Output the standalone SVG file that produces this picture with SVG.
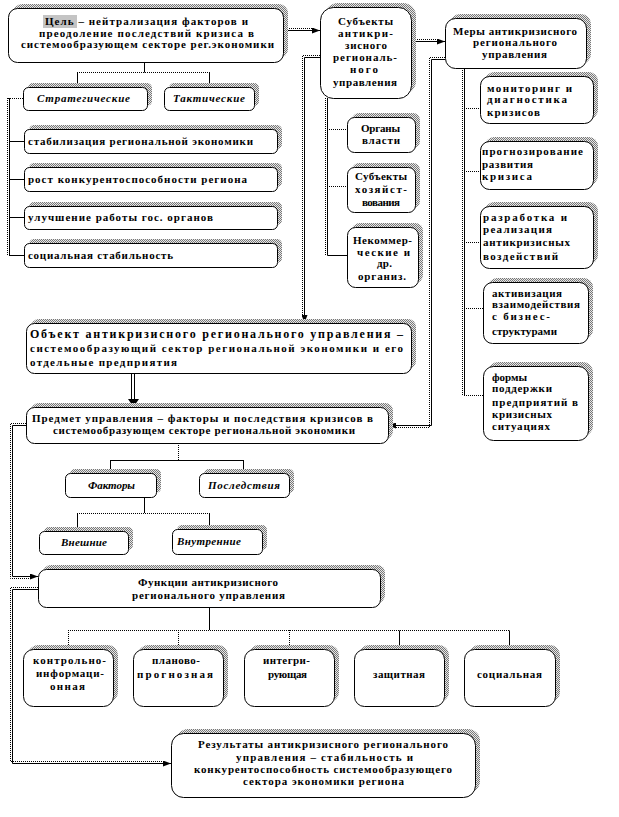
<svg xmlns="http://www.w3.org/2000/svg" width="619" height="817" viewBox="0 0 619 817">
<defs>
<pattern id="dith" width="2" height="2" patternUnits="userSpaceOnUse"><rect width="2" height="2" fill="#e8e8e8"/><rect width="1" height="1" fill="#777"/><rect x="1" y="1" width="1" height="1" fill="#777"/></pattern>
<marker id="ar" viewBox="0 0 8 6" refX="8" refY="3" markerWidth="8" markerHeight="6" markerUnits="userSpaceOnUse" orient="auto"><path d="M0,0 L8,3 L0,6 z" fill="#000"/></marker>
<style>
.box{fill:#fff;stroke:#000;stroke-width:1}
.shd{fill:url(#dith)}
.t{font-family:"Liberation Serif","Times New Roman",serif;font-weight:bold;font-size:11px;fill:#000}
.i{font-style:italic}
.c{fill:none;stroke:#000;stroke-width:1}
.d{fill:none;stroke:#000;stroke-width:1;stroke-dasharray:1 1}
</style>
</defs>
<rect width="619" height="817" fill="#fff"/>

<g id="connectors">
<path class="c" d="M144.5,62 V72.5 M77.5,72.5 V87 M209.5,72.5 V87"/>
<path class="d" d="M77,72.5 H210"/>
<path class="d" d="M23,98.5 H8 M7.5,98 V256"/>
<path class="c" d="M9.5,98 V255.5 M9,141.5 H24 M9,179.5 H24 M9,217.5 H24 M9,255.5 H24"/>
<path class="c" d="M283,30.5 H320" marker-end="url(#ar)"/>
<path class="d" d="M283,28.5 H314"/>
<path class="c" d="M411,41.5 H445" marker-end="url(#ar)"/>
<path class="d" d="M411,39.5 H439"/>
<path class="c" d="M320,57.5 H304.5 V323" marker-end="url(#ar)"/>
<path class="d" d="M320,55.5 H302.5 V316"/>
<path class="c" d="M327.5,98 V255.5 H347"/>
<path class="d" d="M325.5,98 V255 M327,129.5 H347 M327,186.5 H347"/>
<path class="c" d="M445,59.5 H431.5 V425.5 H388" marker-end="url(#ar)"/>
<path class="d" d="M445,57.5 H429.5 V427.5 H395"/>
<path class="c" d="M464.5,68 V395.5"/>
<path class="d" d="M462.5,68 V395 M464,108.5 H480 M464,171.5 H480 M464,242.5 H480 M464,308.5 H483 M464,395.5 H483"/>
<path class="c" d="M131.5,373 V400 M134.5,373 V400"/>
<path d="M128,399 L139,399 L133.5,407 z" fill="#000"/>
<path class="d" d="M178.5,443 V460"/>
<path class="c" d="M110,460.5 H244 M110.5,460 V473 M243.5,460 V473"/>
<path class="c" d="M144.5,497 V513 M77.5,513.5 V531 M209.5,513.5 V529"/>
<path class="d" d="M77,513.5 H210"/>
<path class="c" d="M26,425.5 H12.5 V576.5 H38" marker-end="url(#ar)"/>
<path class="d" d="M26,423.5 H10.5 V578.5 H32"/>
<path class="c" d="M38,589.5 H12.5 V763.5 H171" marker-end="url(#ar)"/>
<path class="d" d="M38,587.5 H10.5 V761.5 H165"/>
<path class="c" d="M209.5,607 V630 M399.5,630.5 V649 M509.5,630.5 V649"/>
<path class="d" d="M68,630.5 H510 M68.5,630 V649 M178.5,630 V649 M289.5,630 V649"/>
</g>

<g id="goal">
<rect class="shd" x="13" y="4" width="275" height="54" rx="9"/>
<rect class="box" x="8.5" y="8.5" width="275" height="54" rx="9"/>
<rect x="43" y="15" width="34" height="13" fill="#c4c4c4"/>
<text class="t" x="45" y="24.5" textLength="203" lengthAdjust="spacing">Цель – нейтрализация факторов и</text>
<text class="t" x="39" y="36.5" textLength="215" lengthAdjust="spacing">преодоление последствий кризиса в</text>
<text class="t" x="21" y="47.5" textLength="253" lengthAdjust="spacing">системообразующем секторе рег.экономики</text>
</g>

<g id="strategic">
<rect class="shd" x="28" y="83" width="124" height="23" rx="5"/>
<rect class="box" x="23.5" y="87.5" width="124" height="23" rx="5"/>
<text class="t i" x="37" y="102" textLength="93" lengthAdjust="spacing">Стратегические</text>
</g>
<g id="tactical">
<rect class="shd" x="169" y="83" width="90" height="23" rx="5"/>
<rect class="box" x="164.5" y="87.5" width="90" height="23" rx="5"/>
<text class="t i" x="173" y="102" textLength="72" lengthAdjust="spacing">Тактические</text>
</g>

<g id="goal1">
<rect class="shd" x="29" y="125" width="253" height="24" rx="5"/>
<rect class="box" x="24.5" y="129.5" width="253" height="24" rx="5"/>
<text class="t" x="28" y="145" textLength="225" lengthAdjust="spacing">стабилизация региональной экономики</text>
</g>
<g id="goal2">
<rect class="shd" x="29" y="163" width="253" height="24" rx="5"/>
<rect class="box" x="24.5" y="167.5" width="253" height="24" rx="5"/>
<text class="t" x="28" y="183" textLength="219" lengthAdjust="spacing">рост конкурентоспособности региона</text>
</g>
<g id="goal3">
<rect class="shd" x="29" y="202" width="253" height="23" rx="5"/>
<rect class="box" x="24.5" y="206.5" width="253" height="23" rx="5"/>
<text class="t" x="28" y="221" textLength="185" lengthAdjust="spacing">улучшение работы гос. органов</text>
</g>
<g id="goal4">
<rect class="shd" x="29" y="239" width="253" height="24" rx="5"/>
<rect class="box" x="24.5" y="243.5" width="253" height="24" rx="5"/>
<text class="t" x="28" y="259" textLength="145" lengthAdjust="spacing">социальная стабильность</text>
</g>

<g id="subjects">
<rect class="shd" x="325" y="3" width="91" height="91" rx="13"/>
<rect class="box" x="320.5" y="7.5" width="91" height="91" rx="13"/>
<text class="t" x="338" y="25" textLength="55" lengthAdjust="spacing">Субъекты</text>
<text class="t" x="338" y="37" textLength="55" lengthAdjust="spacing">антикри-</text>
<text class="t" x="345" y="49" textLength="42" lengthAdjust="spacing">зисного</text>
<text class="t" x="333" y="61" textLength="64" lengthAdjust="spacing">региональ-</text>
<text class="t" x="350" y="73" textLength="28" lengthAdjust="spacing">ного</text>
<text class="t" x="333" y="86" textLength="64" lengthAdjust="spacing">управления</text>
</g>

<g id="measures">
<rect class="shd" x="450" y="14" width="141" height="50" rx="10"/>
<rect class="box" x="445.5" y="18.5" width="141" height="50" rx="10"/>
<text class="t" x="453" y="35" textLength="124" lengthAdjust="spacing">Меры антикризисного</text>
<text class="t" x="473" y="46" textLength="84" lengthAdjust="spacing">регионального</text>
<text class="t" x="482" y="58" textLength="65" lengthAdjust="spacing">управления</text>
</g>

<g id="authorities">
<rect class="shd" x="352" y="113" width="68" height="35" rx="7"/>
<rect class="box" x="347.5" y="117.5" width="68" height="35" rx="7"/>
<text class="t" x="361" y="132" textLength="39" lengthAdjust="spacing">Органы</text>
<text class="t" x="362" y="144" textLength="38" lengthAdjust="spacing">власти</text>
</g>
<g id="business">
<rect class="shd" x="352" y="163" width="68" height="45" rx="7"/>
<rect class="box" x="347.5" y="167.5" width="68" height="45" rx="7"/>
<text class="t" x="355" y="180" textLength="52" lengthAdjust="spacing">Субъекты</text>
<text class="t" x="355" y="193" textLength="52" lengthAdjust="spacing">хозяйст-</text>
<text class="t" x="362" y="206" textLength="38" lengthAdjust="spacing">вования</text>
</g>
<g id="nonprofit">
<rect class="shd" x="352" y="223" width="71" height="60" rx="8"/>
<rect class="box" x="347.5" y="227.5" width="71" height="60" rx="8"/>
<text class="t" x="353" y="244" textLength="59" lengthAdjust="spacing">Некоммер-</text>
<text class="t" x="357" y="256" textLength="53" lengthAdjust="spacing">ческие и</text>
<text class="t" x="377" y="267" textLength="15" lengthAdjust="spacing">др.</text>
<text class="t" x="358" y="280" textLength="48" lengthAdjust="spacing">организ.</text>
</g>

<g id="m1">
<rect class="shd" x="485" y="72" width="113" height="47" rx="9"/>
<rect class="box" x="480.5" y="76.5" width="113" height="47" rx="9"/>
<text class="t" x="487" y="92" textLength="85" lengthAdjust="spacing">мониторинг и</text>
<text class="t" x="487" y="103" textLength="80" lengthAdjust="spacing">диагностика</text>
<text class="t" x="487" y="116" textLength="53" lengthAdjust="spacing">кризисов</text>
</g>
<g id="m2">
<rect class="shd" x="485" y="137" width="113" height="48" rx="9"/>
<rect class="box" x="480.5" y="141.5" width="113" height="48" rx="9"/>
<text class="t" x="482" y="155" textLength="101" lengthAdjust="spacing">прогнозирование</text>
<text class="t" x="482" y="168" textLength="51" lengthAdjust="spacing">развития</text>
<text class="t" x="482" y="180" textLength="50" lengthAdjust="spacing">кризиса</text>
</g>
<g id="m3">
<rect class="shd" x="485" y="202" width="113" height="62" rx="9"/>
<rect class="box" x="480.5" y="206.5" width="113" height="62" rx="9"/>
<text class="t" x="483" y="221" textLength="84" lengthAdjust="spacing">разработка и</text>
<text class="t" x="483" y="233" textLength="69" lengthAdjust="spacing">реализация</text>
<text class="t" x="483" y="246" textLength="87" lengthAdjust="spacing">антикризисных</text>
<text class="t" x="483" y="260" textLength="75" lengthAdjust="spacing">воздействий</text>
</g>
<g id="m4">
<rect class="shd" x="488" y="278" width="105" height="61" rx="9"/>
<rect class="box" x="483.5" y="282.5" width="105" height="61" rx="9"/>
<text class="t" x="492" y="297" textLength="70" lengthAdjust="spacing">активизация</text>
<text class="t" x="492" y="308" textLength="88" lengthAdjust="spacing">взаимодействия</text>
<text class="t" x="492" y="320" textLength="58" lengthAdjust="spacing">с бизнес-</text>
<text class="t" x="492" y="335" textLength="65" lengthAdjust="spacing">структурами</text>
</g>
<g id="m5">
<rect class="shd" x="488" y="362" width="105" height="74" rx="10"/>
<rect class="box" x="483.5" y="366.5" width="105" height="74" rx="10"/>
<text class="t" x="492" y="381">формы</text>
<text class="t" x="492" y="392" textLength="60" lengthAdjust="spacing">поддержки</text>
<text class="t" x="492" y="406" textLength="86" lengthAdjust="spacing">предприятий в</text>
<text class="t" x="492" y="418" textLength="60" lengthAdjust="spacing">кризисных</text>
<text class="t" x="492" y="430" textLength="58" lengthAdjust="spacing">ситуациях</text>
</g>

<g id="object">
<rect class="shd" x="31" y="319" width="385" height="50" rx="8"/>
<rect class="box" x="26.5" y="323.5" width="385" height="50" rx="8"/>
<text class="t" x="30" y="338" textLength="373" lengthAdjust="spacing" style="font-size:12px">Объект антикризисного регионального управления –</text>
<text class="t" x="30" y="352" textLength="373" lengthAdjust="spacing">системообразующий сектор региональной экономики и его</text>
<text class="t" x="30" y="366" textLength="147" lengthAdjust="spacing">отдельные предприятия</text>
</g>

<g id="subject-matter">
<rect class="shd" x="31" y="403" width="362" height="36" rx="8"/>
<rect class="box" x="26.5" y="407.5" width="362" height="36" rx="8"/>
<text class="t" x="32" y="422" textLength="341" lengthAdjust="spacing">Предмет управления – факторы и последствия кризисов в</text>
<text class="t" x="53" y="434" textLength="302" lengthAdjust="spacing">системообразующем секторе региональной экономики</text>
</g>

<g id="factors">
<rect class="shd" x="70" y="469" width="91" height="24" rx="5"/>
<rect class="box" x="65.5" y="473.5" width="91" height="24" rx="5"/>
<text class="t i" x="88" y="489" textLength="47" lengthAdjust="spacing">Факторы</text>
</g>
<g id="consequences">
<rect class="shd" x="204" y="469" width="90" height="24" rx="5"/>
<rect class="box" x="199.5" y="473.5" width="90" height="24" rx="5"/>
<text class="t i" x="208" y="489" textLength="72" lengthAdjust="spacing">Последствия</text>
</g>
<g id="external">
<rect class="shd" x="44" y="527" width="89" height="23" rx="5"/>
<rect class="box" x="39.5" y="531.5" width="89" height="23" rx="5"/>
<text class="t i" x="61" y="546" textLength="46" lengthAdjust="spacing">Внешние</text>
</g>
<g id="internal">
<rect class="shd" x="177" y="525" width="90" height="25" rx="5"/>
<rect class="box" x="172.5" y="529.5" width="90" height="25" rx="5"/>
<text class="t i" x="177" y="545" textLength="64" lengthAdjust="spacing">Внутренние</text>
</g>

<g id="functions">
<rect class="shd" x="43" y="565" width="342" height="38" rx="8"/>
<rect class="box" x="38.5" y="569.5" width="342" height="38" rx="8"/>
<text class="t" x="138" y="586" textLength="140" lengthAdjust="spacing">Функции антикризисного</text>
<text class="t" x="132" y="599" textLength="153" lengthAdjust="spacing">регионального управления</text>
</g>

<g id="f1">
<rect class="shd" x="28" y="645" width="90" height="57" rx="10"/>
<rect class="box" x="23.5" y="649.5" width="90" height="57" rx="10"/>
<text class="t" x="33" y="664" textLength="73" lengthAdjust="spacing">контрольно-</text>
<text class="t" x="36" y="677" textLength="68" lengthAdjust="spacing">информаци-</text>
<text class="t" x="50" y="690" textLength="35" lengthAdjust="spacing">онная</text>
</g>
<g id="f2">
<rect class="shd" x="138" y="645" width="90" height="57" rx="10"/>
<rect class="box" x="133.5" y="649.5" width="90" height="57" rx="10"/>
<text class="t" x="152" y="664" textLength="48" lengthAdjust="spacing">планово-</text>
<text class="t" x="137" y="678" textLength="76" lengthAdjust="spacing">прогнозная</text>
</g>
<g id="f3">
<rect class="shd" x="249" y="645" width="90" height="57" rx="10"/>
<rect class="box" x="244.5" y="649.5" width="90" height="57" rx="10"/>
<text class="t" x="263" y="664" textLength="47" lengthAdjust="spacing">интегри-</text>
<text class="t" x="268" y="678" textLength="39" lengthAdjust="spacing">рующая</text>
</g>
<g id="f4">
<rect class="shd" x="359" y="645" width="90" height="57" rx="10"/>
<rect class="box" x="354.5" y="649.5" width="90" height="57" rx="10"/>
<text class="t" x="373" y="678" textLength="52" lengthAdjust="spacing">защитная</text>
</g>
<g id="f5">
<rect class="shd" x="469" y="645" width="91" height="57" rx="10"/>
<rect class="box" x="464.5" y="649.5" width="91" height="57" rx="10"/>
<text class="t" x="477" y="678" textLength="65" lengthAdjust="spacing">социальная</text>
</g>

<g id="results">
<rect class="shd" x="176" y="729" width="304" height="64" rx="12"/>
<rect class="box" x="171.5" y="733.5" width="304" height="64" rx="12"/>
<text class="t" x="198" y="748" textLength="250" lengthAdjust="spacing">Результаты антикризисного регионального</text>
<text class="t" x="236" y="761" textLength="177" lengthAdjust="spacing">управления – стабильность и</text>
<text class="t" x="194" y="773" textLength="258" lengthAdjust="spacing">конкурентоспособность системообразующего</text>
<text class="t" x="243" y="785" textLength="161" lengthAdjust="spacing">сектора экономики региона</text>
</g>
</svg>
